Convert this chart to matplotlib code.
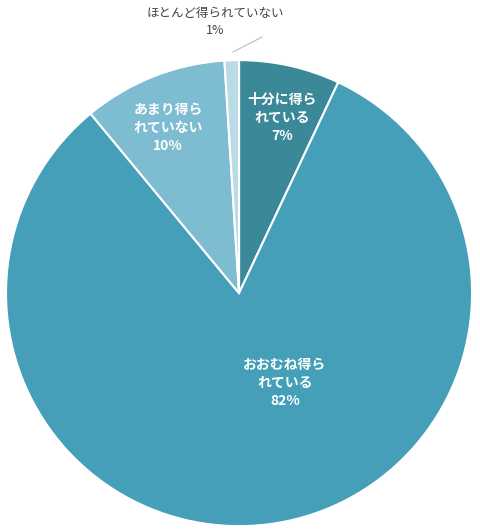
import matplotlib.pyplot as plt

plt.rcParams['font.family'] = ['Noto Sans CJK JP', 'DejaVu Sans']

labels = ["十分に得ら\nれている", "おおむね得ら\nれている", "あまり得ら\nれていない", "ほとんど得られていない"]
values = [7, 82, 10, 1]
colors = ["#3b8899", "#459fb8", "#7ebcd1", "#b9dbe6"]

fig = plt.figure(figsize=(4.8, 5.32), dpi=100)
ax = fig.add_axes([0.498 - 0.4855, 0.449 - 0.438, 0.971, 0.876])
ax.pie(values, colors=colors, startangle=90, counterclock=False, radius=1,
       wedgeprops=dict(edgecolor="white", linewidth=1.5))
ax.set_xlim(-1, 1)
ax.set_ylim(-1, 1)
ax.set_aspect("equal")
ax.axis("off")

def px(x, y):
    return x / 480, 1 - y / 532

pos = [(282, 118), (285, 383), (168, 128)]
for (x, y), lab, v in zip(pos, labels, values):
    ax.text(*px(x, y), f"{lab}\n{v}%", ha="center", va="center", color="white",
            fontsize=10, fontweight="bold", linespacing=1.35,
            transform=fig.transFigure, zorder=10, clip_on=False)

ax.text(*px(215, 22), f"{labels[3]}\n{values[3]}%", ha="center", va="center",
        color="#444444", fontsize=9, linespacing=1.35,
        transform=fig.transFigure, clip_on=False)
x0, y0 = px(233, 52)
x1, y1 = px(262, 37)
fig.add_artist(plt.Line2D([x0, x1], [y0, y1], color="#bbbbbb", lw=0.8))

fig.savefig("out.png", dpi=100)
